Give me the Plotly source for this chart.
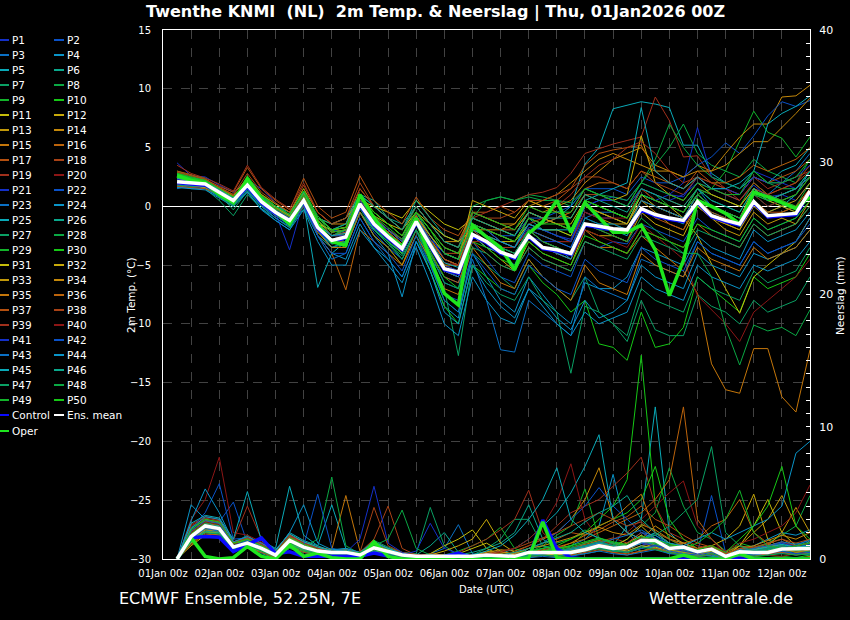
import plotly.graph_objects as go
from datetime import datetime, timedelta

# ECMWF ensemble meteogram, Twenthe, run 01Jan2026 00Z, 6-hourly steps from +6h to +276h
run_start = datetime(2026, 1, 1, 0)
lead_hours = list(range(6, 277, 6))
times = [run_start + timedelta(hours=h) for h in lead_hours]

member_names = [f"P{i}" for i in range(1, 51)]
member_palette = ["#1430c8", "#0a52c8", "#0a70c4", "#0a94c8", "#0aaab8",
                  "#0aa88c", "#0aa064", "#0aa844", "#12b42a", "#16c816",
                  "#c4bc0a", "#c8aa0a", "#c0980a", "#c4880a", "#c4760a",
                  "#bc640c", "#b45010", "#a84216", "#a0301c", "#8c1616"]

# 2m temperature (deg C)
temp_mean = [2.1, 2.0, 1.9, 1.2, 0.5, 1.8, 0.4, -0.5, -1.2, 0.5,
             -1.8, -2.9, -2.6, 0.2, -1.5, -2.6, -3.6, -1.3, -3.3, -5.3, -5.6,
             -2.4, -3.0, -3.9, -4.3, -2.5, -3.5, -3.7, -4.0, -1.5, -1.7, -1.9, -2.0, -0.2,
             -0.7, -1.0, -1.2, 0.4, -0.8, -1.2, -1.5, 0.4, -0.8, -0.7, -0.6, 1.3]
temp_control = [2.0, 1.9, 1.8, 1.2, 0.4, 1.7, 0.3, -0.6, -1.3, 0.4,
                -1.9, -3.0, -2.7, 0.1, -1.6, -2.7, -3.7, -1.4, -3.4, -5.4, -5.7,
                -2.5, -3.1, -4.0, -4.4, -2.6, -3.6, -3.8, -4.1, -1.6, -1.8, -2.0, -2.1, -0.3,
                -0.8, -1.1, -1.3, 0.3, -0.9, -1.3, -1.6, 0.3, -0.9, -0.8, -0.7, 1.2]
temp_oper = [2.6, 2.2, 2.0, 1.0, 0.3, 2.3, 0.6, -0.5, -1.5, 0.5,
             -1.5, -3.0, -3.3, 1.0, -1.0, -2.5, -3.4, -1.0, -4.5, -7.4, -8.4,
             -1.6, -2.6, -3.5, -5.4, -2.3, -1.3, 0.5, -2.2, 0.3, -1.0, -2.2, -2.2, -1.6,
             -3.7, -7.6, -4.6, 0.5, 0.0, -0.6, -1.5, 1.2, 0.8, 0.3, -0.2, 0.8]

temp_members = [
    [3.7, 2.6, 2.5, 1.8, 1.2, 2.2, 1.5, 0.3, -0.8, 1.2, -1.0, -2.0, -2.2, 0.8, -1.0, -2.0, -2.8, -0.5, -2.5, -4.0, -4.5, -1.5, -2.5, -3.0, -3.5, -1.8, -2.0, -2.5, -2.8, 0.0, 0.5, 0.8, 0.5, 2.0, 1.5, 1.0, 0.8, 2.5, 1.5, 1.0, 0.5, 1.8, 0.8, 1.0, 0.5, 2.0],
    [2.5, 2.2, 2.0, 1.5, 0.8, 1.5, 0.2, -0.2, -1.0, 0.8, -2.5, -3.5, -3.0, -0.5, -2.2, -3.5, -4.5, -2.0, -4.5, -6.0, -6.5, -3.0, -4.5, -6.0, -6.5, -4.0, -5.0, -5.5, -6.0, -3.0, -3.5, -3.0, -3.2, -1.5, -2.0, -2.5, -3.0, -1.0, -2.0, -2.5, -3.0, -1.0, -2.0, -1.5, -1.0, 0.5],
    [1.5, 1.8, 1.8, 0.8, 0.0, 1.5, 0.0, -1.0, -1.8, 0.0, -2.0, -3.5, -3.0, 0.0, -2.0, -3.0, -4.0, -1.5, -4.0, -6.5, -7.0, -2.0, -2.5, -4.0, -5.0, -2.0, -3.0, -3.5, -4.5, -1.0, -0.5, -0.5, -1.0, 1.0, 0.5, 0.0, -0.5, 1.5, 0.0, -0.5, -1.0, 1.5, 1.0, 2.0, 3.0, 4.5],
    [1.8, 1.5, 1.5, 0.8, 0.2, 1.2, -0.3, -1.2, -2.0, 0.2, -2.5, -4.0, -4.5, -1.5, -3.5, -4.5, -6.0, -3.0, -5.5, -8.5, -9.5, -4.0, -6.0, -8.0, -9.0, -6.0, -7.5, -9.0, -10.0, -6.5, -7.0, -7.0, -6.0, -3.5, -4.0, -4.5, -5.0, -2.5, -3.5, -4.0, -4.5, -2.0, -3.0, -2.5, -2.0, -0.5],
    [2.2, 2.0, 1.8, 1.0, 0.5, 1.5, 0.5, -0.3, -1.0, 0.8, -1.5, -2.5, -2.0, 0.5, -1.0, -2.0, -3.0, -0.8, -2.5, -4.0, -4.5, -1.5, -2.0, -2.5, -3.0, -1.0, -1.5, -1.0, 0.0, 3.6, 5.0, 8.3, 8.6, 8.9, 8.7, 8.4, 5.2, 5.2, 2.8, 2.0, 1.5, 2.5, 2.0, 3.0, 3.5, 5.0],
    [2.8, 2.4, 2.0, 1.2, 0.6, 2.0, 0.8, 0.0, -0.5, 1.0, -1.5, -2.0, -1.5, 1.0, 0.5, -1.0, -1.5, 0.0, -1.5, -3.0, -3.5, -1.0, -1.5, -2.0, -2.5, -0.5, -1.0, -1.5, -2.0, 0.5, 0.0, -0.5, -1.0, 1.0, 0.5, 0.0, -0.5, 1.0, 0.0, -0.5, -1.0, 1.0, 0.0, 0.5, 1.0, 2.5],
    [2.3, 2.1, 1.5, 0.5, -0.8, 1.0, -0.2, -1.0, -1.8, -0.2, -2.5, -3.5, -3.2, -0.5, -2.0, -3.2, -4.5, -2.0, -5.0, -8.0, -9.0, -4.0, -5.0, -6.0, -7.0, -4.5, -6.0, -7.0, -8.0, -6.0, -9.0, -10.0, -11.5, -8.0, -10.5, -11.0, -11.0, -7.5, -8.5, -9.0, -10.0, -8.0, -9.0, -8.5, -8.0, -6.0],
    [2.6, 2.3, 2.2, 1.5, 0.8, 2.2, 0.8, 0.0, -0.8, 1.0, -1.2, -2.5, -2.0, 0.8, -0.5, -1.5, -2.5, 0.0, -1.5, -3.0, -3.5, 0.0, 0.5, 0.8, 0.5, 1.0, 0.8, 0.5, 0.0, 1.5, 1.0, 0.8, 0.5, 2.0, 3.5, 5.0, 7.0, 4.5, 3.5, 3.0, 2.5, 4.0, 3.0, 2.5, 2.0, 4.0],
    [2.9, 2.5, 2.3, 1.3, 0.5, 2.5, 1.0, 0.2, -0.5, 1.5, -1.0, -2.0, -2.5, 0.5, -1.5, -2.5, -3.5, -1.0, -3.0, -5.0, -5.5, -2.0, -2.5, -3.5, -4.0, -2.0, -3.0, -3.5, -4.0, -1.0, -1.5, -1.5, -2.0, 0.5, 0.0, -0.5, -1.0, 1.0, 1.5, 3.0, 5.6, 8.1, 6.3, 5.8, 4.2, 5.9],
    [3.0, 2.6, 2.4, 1.4, 0.6, 2.6, 1.0, 0.0, -1.0, 1.2, -1.5, -3.0, -3.5, -0.5, -2.5, -3.5, -5.0, -2.5, -5.5, -8.5, -10.0, -5.0, -6.0, -7.0, -7.5, -5.0, -6.5, -7.5, -9.0, -8.0, -11.7, -12.0, -13.1, -9.0, -12.0, -11.7, -10.3, -6.0, -7.0, -8.0, -9.0, -6.0, -7.0, -6.5, -6.0, -4.0],
    [2.0, 1.9, 1.7, 1.0, 0.3, 1.6, 0.3, -0.6, -1.3, 0.3, -1.0, -1.5, -1.0, 0.5, 0.0, -0.5, -1.0, 0.5, -0.5, -1.5, -2.0, -1.0, -1.5, -2.0, -2.5, -0.5, -1.0, -1.5, -1.5, 0.5, 0.0, -0.5, -1.0, 1.5, 0.5, 0.0, -1.0, -2.5, -4.9, -7.0, -9.1, -6.0, -5.0, -4.0, -3.0, -1.0],
    [2.2, 2.1, 1.9, 1.3, 0.7, 1.9, 0.6, -0.3, -1.0, 0.6, -1.8, -3.0, -2.8, 0.0, -1.8, -2.8, -4.0, -1.5, -3.5, -5.5, -6.0, -2.5, -3.5, -4.5, -5.5, -3.0, -4.0, -4.5, -5.0, -2.0, -2.5, -2.5, -3.0, -0.5, -1.5, -2.0, -2.5, 0.0, -1.0, -1.5, -2.0, 0.0, -1.0, -0.5, 0.0, 1.5],
    [1.7, 1.8, 1.6, 1.1, 0.6, 1.7, 0.5, -0.4, -1.1, 0.4, -1.2, -2.5, -2.5, 0.3, -1.2, -2.2, -3.2, -0.8, -2.8, -4.5, -5.0, -2.0, -2.0, -3.0, -3.5, -2.0, -2.5, -3.0, -3.0, -0.5, -1.0, -1.5, -1.5, 0.5, -0.5, -1.5, -2.0, 0.0, -1.0, -2.0, -2.5, -0.5, -1.5, -1.0, -1.5, 0.5],
    [2.4, 2.2, 2.1, 1.6, 1.0, 2.4, 1.0, 0.2, -0.5, 1.5, -0.5, -1.5, -1.5, 1.5, 0.0, -1.0, -2.0, 0.0, -1.5, -3.0, -3.0, -0.5, -1.0, -1.5, -1.5, 0.0, -0.5, 0.0, 0.5, 2.0, 3.0, 4.0, 4.5, 5.0, 3.5, 3.0, 2.5, 3.5, 3.0, 4.5, 5.9, 7.0, 7.0, 9.3, 9.4, 10.3],
    [2.0, 1.8, 1.6, 1.2, 0.4, 1.9, 0.4, -0.5, -1.3, 0.5, -2.0, -3.0, -3.0, 0.0, -1.5, -2.5, -3.5, -1.0, -3.0, -5.0, -5.5, -2.5, -3.5, -4.0, -4.5, -2.5, -3.5, -4.0, -4.5, -2.0, -3.0, -3.5, -4.0, -2.5, -3.5, -4.5, -5.5, -7.4, -13.4, -15.6, -15.9, -12.1, -12.1, -16.2, -17.5, -12.2],
    [2.3, 2.0, 1.8, 1.0, 0.4, 1.7, 0.6, -0.4, -1.0, 0.8, -2.5, -4.0, -7.1, -2.0, -3.0, -4.0, -5.0, -2.0, -4.0, -6.0, -6.5, -3.0, -4.0, -5.0, -5.5, -3.5, -4.5, -5.0, -5.5, -3.0, -3.5, -3.5, -4.0, -2.0, -2.5, -3.0, -3.5, -1.5, -2.5, -3.0, -3.5, -1.5, -2.5, -2.0, -1.5, 0.0],
    [3.0, 2.7, 2.3, 1.7, 1.2, 3.3, 1.5, 0.5, -0.3, 2.4, 0.0, -1.0, -0.5, 2.6, 0.5, -0.5, -1.5, 0.8, -1.0, -2.0, -2.5, -0.5, -0.5, 0.0, -0.5, 0.5, 0.0, 0.5, 1.5, 3.5, 4.5, 4.8, 5.0, 5.2, 3.0, 2.0, 1.5, 3.0, 2.0, 1.5, 1.0, 2.5, 2.0, 2.5, 3.0, 4.0],
    [2.5, 2.3, 2.1, 1.4, 0.8, 2.2, 0.8, -0.2, -0.9, 1.0, -1.2, -2.2, -2.0, 0.8, -0.8, -2.0, -2.8, -0.8, -2.5, -4.0, -4.0, -1.0, -1.5, -2.0, -2.0, -0.5, -1.0, -1.0, -0.5, 1.0, 1.0, 0.5, 0.0, 1.5, 1.0, 0.5, 0.0, 1.5, 1.0, 0.5, 0.0, 1.5, 1.0, 1.5, 2.0, 3.0],
    [3.5, 2.8, 2.4, 1.9, 1.3, 3.5, 1.6, 0.6, -0.2, 2.0, -0.5, -1.5, -1.0, 1.5, 0.0, -1.0, -2.0, 0.0, -1.5, -2.5, -3.0, -1.0, -0.5, 0.0, 0.5, 1.0, 1.2, 1.6, 2.8, 4.5, 4.9, 5.3, 5.6, 5.9, 9.3, 7.3, 4.2, 4.3, 2.5, 1.5, 0.5, 2.0, 1.0, 0.5, 0.0, 1.5],
    [2.0, 1.9, 1.8, 1.1, 0.4, 1.6, 0.3, -0.6, -1.3, 0.3, -1.8, -3.0, -2.8, 0.0, -1.5, -2.5, -3.5, -1.2, -3.2, -5.0, -5.5, -2.5, -3.0, -4.0, -4.5, -2.5, -3.5, -4.0, -4.5, -2.0, -2.5, -3.0, -3.5, -1.5, -2.5, -3.5, -4.5, -7.6, -8.8, -10.0, -11.5, -9.0, -8.0, -7.0, -6.0, -4.5],
    [2.1, 2.0, 1.9, 1.2, 0.4, 1.7, 0.3, -0.6, -3.7, 0.5, -1.8, -2.8, -2.5, 0.3, -1.5, -2.5, -3.5, -1.2, -3.2, -5.0, -5.5, -2.0, -3.0, -4.0, -4.5, -2.5, -3.0, -3.0, -3.5, -0.5, -1.0, -1.0, -1.5, 1.0, 0.5, 1.0, 2.0, 6.7, 2.5, 2.0, 1.5, 3.0, 2.5, 2.0, 1.5, 3.0],
    [2.4, 2.1, 2.0, 1.3, 0.6, 1.9, 0.5, -0.4, -1.1, 0.6, -1.5, -2.5, -2.2, 0.5, -1.0, -2.0, -3.0, -0.8, -2.5, -4.5, -5.0, -1.5, -2.0, -2.5, -2.5, -1.0, -1.0, -0.5, 0.0, 1.5, 1.5, 1.5, 1.0, 2.5, 2.0, 2.0, 2.5, 3.5, 4.2, 5.4, 4.5, 6.0, 7.7, 8.9, 8.5, 9.0],
    [1.6, 1.6, 1.7, 0.9, 0.1, 1.3, 0.0, -1.0, -1.7, 0.0, -2.5, -4.5, -4.0, -1.0, -3.0, -4.5, -6.0, -3.0, -5.0, -8.0, -9.0, -4.5, -8.0, -12.2, -12.4, -8.0, -9.0, -10.0, -11.0, -6.0, -7.0, -7.5, -8.0, -4.5, -5.0, -5.5, -6.0, -3.0, -4.0, -4.5, -5.0, -3.0, -4.0, -3.5, -3.0, -1.0],
    [1.9, 1.7, 1.6, 0.8, 0.3, 1.4, 0.2, -0.8, -1.5, 0.4, -2.0, -3.5, -3.5, -0.5, -2.5, -4.0, -7.7, -3.0, -5.5, -9.0, -10.0, -5.0, -7.0, -8.5, -9.5, -7.0, -8.0, -9.5, -10.5, -8.0, -9.5, -9.0, -8.0, -5.0, -6.0, -6.5, -7.0, -4.0, -5.0, -5.5, -6.0, -4.0, -4.5, -4.0, -3.5, -2.0],
    [2.2, 2.0, 1.9, 1.1, 0.4, 1.6, 0.4, -0.8, -1.5, 0.3, -6.9, -4.0, -3.0, 0.0, -2.0, -3.0, -4.0, -1.5, -3.5, -5.5, -6.0, -2.5, -3.5, -4.0, -4.5, -2.5, -3.5, -4.0, -4.5, -1.5, -2.0, -2.0, -2.5, 0.0, -1.0, -1.0, -1.5, 0.5, -0.5, -1.0, -1.5, 0.5, -0.5, 0.0, 1.0, 3.0],
    [2.7, 2.4, 2.2, 1.5, 0.8, 2.1, 0.7, -0.2, -0.8, 1.2, -1.0, -1.5, -1.0, 1.0, 0.0, -1.0, -2.0, 0.5, -1.0, -2.5, -3.0, -1.5, -2.0, -3.0, -3.5, -1.0, -2.0, -2.5, -3.0, 0.0, -0.5, -1.0, -1.5, 1.0, 0.5, 0.0, -0.5, 1.5, 0.5, 0.0, -0.5, 1.5, 0.5, 0.0, -0.5, 1.0],
    [1.8, 1.7, 1.7, 1.0, -0.3, 1.3, 0.0, -0.8, -1.6, 0.2, -2.2, -3.2, -3.0, -0.5, -2.0, -3.0, -4.5, -2.0, -4.5, -7.0, -12.7, -5.0, -6.5, -7.5, -8.0, -6.0, -8.0, -9.0, -14.2, -8.5, -9.0, -10.0, -11.0, -7.0, -8.0, -8.5, -9.0, -6.0, -7.0, -7.5, -8.0, -5.5, -6.5, -6.0, -5.5, -3.5],
    [2.5, 2.2, 2.0, 1.2, 0.5, 2.0, 0.5, -0.3, -1.0, 0.8, -1.5, -2.5, -2.0, 0.5, -1.0, -2.0, -3.0, -0.5, -2.5, -4.0, -4.5, -1.0, 0.5, 0.8, 0.5, 0.8, 0.5, 0.5, 0.3, 1.5, 1.0, 0.5, 0.0, 2.0, 4.0, 7.0, 5.0, 3.5, 2.5, 2.0, 1.5, 3.0, 2.0, 1.5, 1.5, 3.0],
    [2.8, 2.5, 2.2, 1.4, 0.7, 2.3, 0.9, 0.0, -0.7, 1.3, -0.8, -2.0, -1.8, 0.8, -0.5, -1.5, -2.5, -0.5, -2.0, -3.5, -4.0, -1.5, -2.0, -2.5, -3.0, -1.5, -2.0, -2.0, -2.5, 0.5, 0.0, -0.5, -1.0, 1.5, 1.0, 0.0, -0.5, 1.5, 1.0, 0.5, 0.0, 2.0, 1.0, 0.5, 0.0, 2.0],
    [2.6, 2.3, 2.1, 1.1, 0.3, 2.1, 0.6, -0.4, -1.1, 0.9, -1.8, -3.0, -2.8, 0.0, -1.8, -3.0, -4.0, -1.5, -3.8, -6.0, -7.0, -3.0, -3.5, -4.5, -5.0, -3.0, -4.0, -4.5, -5.0, -2.5, -3.0, -3.5, -4.0, -2.0, -2.5, -3.0, -3.5, -1.5, -2.0, -2.5, -3.0, -1.0, -2.0, -1.5, -1.0, 0.5],
    [2.0, 1.9, 1.8, 1.2, 0.6, 1.8, 0.4, -0.5, -1.2, 0.5, -1.5, -2.0, -1.8, 0.5, -0.8, -1.5, -2.0, -0.5, -1.5, -2.5, -3.0, -2.0, -2.5, -3.0, -3.0, -1.5, -2.0, -2.0, -2.5, 0.0, -0.5, -1.0, -1.5, 1.0, 0.0, -0.5, -1.0, 1.0, 0.0, -0.5, -1.0, 1.5, 0.5, 1.0, 1.5, 2.5],
    [2.3, 2.1, 1.9, 1.4, 0.8, 2.0, 0.6, -0.2, -0.9, 0.8, -1.2, -2.2, -2.0, 0.5, -1.0, -2.0, -3.0, -0.8, -2.5, -4.0, -4.5, 0.5, 0.0, -0.5, -1.0, 0.5, 0.0, -0.5, -1.0, 1.0, 0.5, 0.5, 1.0, 6.0, 2.0, 1.0, 0.5, 2.0, 1.0, 0.5, 0.0, 1.5, 0.5, 0.0, -0.5, 1.5],
    [1.9, 1.8, 1.6, 1.0, 0.4, 1.7, 0.3, -0.7, -1.4, 0.2, -2.0, -3.0, -2.8, 0.0, -1.5, -2.5, -3.5, -1.2, -3.0, -5.0, -5.0, -0.5, -1.0, -1.5, -2.0, -0.5, -1.0, -1.5, -2.0, 0.0, -0.5, -1.0, -1.5, 0.5, 0.0, -0.5, -1.0, 0.0, -1.0, -1.5, -2.0, 0.5, -0.5, 0.0, 0.5, 2.0],
    [2.4, 2.2, 2.0, 1.5, 0.9, 2.1, 0.7, -0.1, -0.8, 1.1, -1.0, -2.0, -1.8, 1.0, -0.5, -1.5, -2.5, -0.5, -2.0, -3.5, -4.0, -1.5, -2.0, -2.0, -1.5, 0.0, 0.5, 1.0, 2.0, 3.0, 4.0, 4.5, 4.0, 3.5, 3.0, 3.0, 2.5, 3.0, 3.0, 3.5, 4.5, 5.5, 5.5, 6.7, 7.9, 9.2],
    [2.1, 1.9, 1.8, 1.1, 0.3, 1.6, 0.3, -0.7, -1.4, 0.3, -2.2, -3.5, -3.5, -0.5, -2.5, -3.5, -5.0, -2.5, -4.5, -7.0, -7.5, -3.5, -5.0, -6.5, -7.0, -4.5, -6.0, -7.0, -8.0, -5.0, -6.5, -7.0, -7.5, -4.0, -5.0, -5.5, -6.0, -3.5, -4.5, -5.0, -5.5, -3.5, -4.5, -4.0, -3.5, -2.0],
    [2.6, 2.3, 2.1, 1.3, 0.6, 2.0, 0.7, -0.2, -0.9, 1.0, -1.5, -2.5, -2.2, 0.5, -1.2, -2.2, -3.2, -0.8, -2.8, -4.5, -5.0, -1.5, -2.0, -2.5, -3.0, -1.0, -1.5, -1.0, -0.5, 1.5, 2.0, 2.0, 1.5, 3.0, 2.5, 2.0, 1.5, 2.5, 2.0, 2.0, 2.5, 3.5, 3.0, 3.5, 4.0, 5.0],
    [1.7, 1.6, 1.5, 1.0, 0.5, 1.5, 0.2, -0.8, -1.5, 0.0, -1.8, -2.8, -2.5, 0.0, -1.5, -2.5, -3.5, -1.0, -3.0, -4.5, -5.0, -2.0, -3.0, -3.5, -4.0, -2.0, -3.0, -3.5, -4.0, -1.5, -2.0, -2.5, -3.0, 0.0, -1.0, -1.5, -2.0, 0.5, -0.5, -1.0, -1.5, 0.5, -0.5, -0.5, 0.0, 1.5],
    [2.9, 2.6, 2.3, 1.6, 1.0, 2.8, 1.2, 0.3, -0.5, 1.8, -0.5, -1.5, -1.0, 2.0, 0.0, -1.0, -2.0, 0.0, -1.5, -3.0, -3.5, -0.5, -1.0, -1.0, -0.5, 0.5, 0.5, 1.0, 1.5, 2.5, 2.5, 2.0, 1.5, 3.0, 2.0, 1.5, 1.0, 2.5, 1.5, 1.0, 0.5, 2.0, 1.0, 1.5, 2.0, 3.5],
    [2.2, 2.0, 1.9, 1.2, 0.5, 1.8, 0.5, -0.5, -1.2, 0.6, -1.8, -3.0, -2.8, 0.2, -1.5, -2.8, -3.8, -1.2, -3.5, -5.5, -6.0, -3.0, -3.0, -3.5, -3.5, -1.5, -1.0, 0.0, 1.0, 2.5, 3.5, 4.0, 5.0, 5.5, 4.5, 3.0, 2.0, 2.5, 2.0, 1.5, 1.0, 2.5, 1.5, 2.0, 2.5, 3.0],
    [2.5, 2.2, 2.0, 1.3, 0.6, 2.0, 0.6, -0.3, -1.0, 0.8, -1.5, -2.5, -2.3, 0.5, -1.2, -2.3, -3.3, -1.0, -3.0, -4.8, -5.0, -2.0, -2.5, -3.0, -3.5, -2.0, -2.5, -3.0, -3.0, -0.5, -1.0, -1.0, -1.0, 1.5, 0.5, 0.0, -0.5, 1.0, 0.0, -0.5, -1.0, 1.0, 0.0, 0.5, 1.0, 2.5],
    [2.3, 2.1, 2.0, 1.4, 0.7, 2.0, 0.8, -0.3, -1.0, 0.7, -1.5, -2.5, -2.5, 0.5, -1.0, -2.0, -3.0, -1.0, -2.8, -4.0, -4.5, -1.5, -2.0, -3.0, -3.5, -1.5, -2.0, -2.5, -3.0, 0.0, 0.5, 0.5, 0.0, 1.5, 1.0, 0.5, 1.0, 2.0, 1.5, 1.5, 1.0, 2.5, 2.0, 2.0, 2.5, 3.5],
    [2.0, 1.9, 1.8, 1.0, 0.2, 1.5, 0.1, -0.8, -1.6, 0.1, -2.5, -4.0, -4.0, -1.0, -3.0, -4.0, -5.5, -2.5, -5.0, -7.5, -8.0, -4.0, -5.5, -7.0, -7.5, -5.0, -6.0, -7.0, -7.5, -4.5, -5.5, -6.0, -6.5, -3.5, -4.5, -5.0, -5.5, -3.0, -4.0, -4.5, -5.0, -3.0, -4.0, -3.5, -3.0, -1.5],
    [2.1, 2.0, 1.9, 1.2, 0.5, 1.7, 0.3, -0.6, -1.3, 0.4, -2.0, -3.0, -2.8, 0.0, -1.8, -2.8, -3.8, -1.5, -3.5, -5.5, -6.0, -2.5, -3.0, -3.5, -4.0, -2.0, -2.5, -3.0, -3.5, -1.0, -1.5, -1.5, -2.0, 0.5, 0.0, -0.5, -1.0, 1.0, 0.0, -0.5, -1.0, 1.0, 0.5, 1.0, 1.5, 2.5],
    [1.6, 1.5, 1.4, 0.7, 0.0, 1.2, -0.2, -1.2, -2.0, -0.3, -3.0, -5.0, -5.0, -2.0, -3.5, -5.0, -6.5, -3.5, -6.5, -10.0, -11.0, -6.0, -8.0, -9.5, -10.0, -7.0, -8.5, -10.0, -11.0, -9.0, -10.0, -9.5, -9.0, -6.0, -7.0, -7.5, -8.0, -5.0, -6.0, -6.5, -7.0, -5.0, -5.5, -5.0, -4.5, -3.0],
    [2.4, 2.2, 2.0, 1.3, 0.6, 1.9, 0.5, -0.4, -1.1, 0.6, -1.5, -2.5, -2.3, 0.3, -1.3, -2.3, -3.3, -1.0, -3.0, -4.8, -5.2, -2.0, -2.5, -3.0, -3.5, -1.5, -2.0, -2.0, -2.0, 0.5, 1.0, 1.5, 2.0, 8.4, 3.0, 2.0, 1.5, 2.5, 1.5, 1.5, 2.0, 3.0, 7.0, 7.9, 8.5, 9.4],
    [2.7, 2.4, 2.2, 1.4, 0.7, 2.2, 0.8, 0.0, -0.7, 1.2, -1.0, -2.0, -1.5, 1.0, 0.0, -1.0, -2.0, 0.0, -1.5, -3.0, -3.5, -1.0, -1.5, -2.0, -2.5, -0.5, -1.0, -1.0, -1.0, 1.0, 0.5, 0.0, -0.5, 1.5, 1.0, 0.5, 0.0, 1.5, 0.5, 0.0, -0.5, 1.5, 0.5, 1.0, 1.5, 3.0],
    [2.0, 1.8, 1.7, 0.8, 0.0, 1.5, 0.2, -0.7, -1.5, 0.2, -2.0, -3.2, -3.0, -0.2, -2.0, -3.2, -4.2, -2.0, -4.0, -6.5, -7.0, -3.5, -4.0, -5.0, -5.5, -3.5, -4.5, -5.0, -5.5, -3.0, -3.5, -4.0, -4.5, -2.5, -3.0, -3.5, -4.0, -2.0, -2.5, -3.0, -3.5, -1.5, -2.5, -2.0, -1.5, 0.0],
    [2.2, 2.0, 1.9, 1.2, 0.5, 1.8, 0.5, -0.4, -1.1, 0.6, -1.8, -2.8, -2.6, 0.2, -1.5, -2.6, -3.6, -1.3, -3.3, -5.3, -5.6, -2.5, -3.0, -3.5, -4.0, -2.0, -3.0, -3.5, -4.0, -1.5, -2.0, -2.5, -3.0, -1.0, -2.0, -3.0, -4.0, -4.0, -6.0, -10.3, -13.5, -10.1, -10.6, -10.3, -11.0, -8.8],
    [2.5, 2.3, 2.1, 1.3, 0.6, 2.1, 0.7, -0.2, -0.9, 1.0, -1.2, -2.2, -2.0, 0.8, -0.8, -1.8, -2.8, -0.5, -2.0, -3.5, -4.0, -0.5, -1.0, -1.5, -2.0, 0.0, -0.5, -0.5, -0.5, 1.5, 1.0, 0.5, 0.0, 2.0, 1.5, 1.0, 0.5, 2.0, 1.5, 1.0, 1.0, 3.0, 2.0, 2.0, 2.5, 4.0],
    [2.8, 2.4, 2.2, 1.5, 0.8, 2.3, 0.9, 0.0, -0.7, 1.3, -1.0, -2.0, -1.8, 0.8, -0.5, -1.5, -2.5, -0.5, -2.0, -4.0, -4.5, -1.5, -2.0, -2.5, -3.0, -1.0, -1.5, -1.5, -2.0, 0.5, 0.0, -0.5, -1.0, 1.0, 0.5, 0.0, -0.5, 1.0, 0.0, -0.5, -1.0, 1.0, 0.5, 0.5, 1.0, 2.5],
]

# 6-hourly precipitation (mm)
precip_mean = [0.0, 1.7, 2.5, 2.3, 0.9, 1.2, 0.8, 0.3, 1.4, 0.9,
               0.6, 0.5, 0.5, 0.3, 0.85, 0.55, 0.3, 0.2, 0.2, 0.2, 0.2,
               0.2, 0.3, 0.25, 0.2, 0.5, 0.5, 0.5, 0.5, 0.7, 1.0, 0.8, 0.9, 1.4,
               1.4, 0.8, 0.9, 0.55, 0.75, 0.2, 0.55, 0.5, 0.5, 0.75, 0.75, 0.8]
precip_control = [0.0, 1.6, 1.7, 1.65, 0.55, 1.05, 1.6, 0.4, 0.55, 0.2,
                  0.2, 0.2, 0.2, 0.2, 0.45, 0.2, 0.0, 0.0, 0.0, 0.2, 0.45,
                  0.1, 0.0, 0.0, 0.0, 0.1, 2.95, 0.8, 0.1, 0.0, 0.0, 0.0, 0.0, 0.0,
                  0.0, 0.0, 0.0, 0.0, 0.0, 0.0, 0.0, 0.0, 0.0, 0.0, 0.0, 0.0]
precip_oper = [0.0, 1.6, 0.2, 0.0, 0.1, 0.95, 0.2, 0.0, 1.05, 0.2,
               0.45, 0.1, 0.0, 0.0, 1.3, 0.2, 0.0, 0.0, 0.0, 0.0, 0.2,
               0.0, 0.0, 0.0, 0.0, 0.1, 2.8, 0.1, 0.0, 0.0, 0.0, 0.0, 0.0, 0.0,
               0.0, 0.0, 0.3, 0.0, 0.0, 0.0, 0.4, 0.0, 0.0, 0.0, 0.0, 0.0]

precip_members = [
    [0, 1.5, 2.2, 2.0, 0.8, 1.0, 0.5, 0.2, 1.2, 0.8, 0.5, 0.3, 0.4, 0.2, 0.8, 0.5, 0.2, 0.1, 0.0, 0.0, 0.1, 0.0, 0.2, 0.1, 0.0, 0.3, 0.5, 0.4, 0.6, 0.8, 1.2, 0.9, 0.5, 1.0, 1.5, 0.8, 0.5, 0.3, 0.6, 0.1, 0.4, 0.3, 0.5, 0.8, 0.6, 0.5],
    [0, 1.8, 2.5, 2.8, 4.3, 1.2, 0.8, 0.3, 1.5, 1.0, 0.6, 0.5, 0.3, 0.1, 0.5, 0.3, 0.1, 0.0, 0.2, 0.1, 0.0, 0.0, 0.1, 0.3, 0.1, 0.5, 0.8, 0.6, 0.4, 1.0, 0.8, 0.5, 1.2, 2.0, 1.8, 1.0, 0.8, 0.5, 4.8, 0.5, 0.3, 0.2, 0.6, 0.4, 0.8, 1.0],
    [0, 2.0, 2.8, 2.5, 0.6, 1.4, 1.0, 0.4, 1.0, 0.6, 0.8, 0.4, 0.6, 0.3, 1.0, 0.6, 0.3, 0.2, 0.4, 0.8, 2.6, 0.4, 0.2, 0.0, 0.0, 0.2, 0.4, 0.3, 0.2, 0.5, 0.9, 0.6, 0.8, 1.5, 1.2, 0.6, 0.4, 0.2, 0.3, 0.0, 0.5, 0.8, 1.0, 0.6, 0.4, 0.3],
    [0, 4.1, 3.0, 2.2, 1.0, 1.6, 0.6, 0.2, 1.8, 1.2, 0.5, 0.2, 0.2, 0.0, 0.6, 0.4, 0.2, 0.0, 0.1, 0.0, 0.0, 0.1, 0.0, 0.2, 0.0, 0.6, 0.4, 0.8, 1.0, 1.5, 2.5, 6.4, 2.0, 1.0, 0.8, 0.5, 1.2, 0.6, 0.4, 0.2, 0.3, 0.2, 0.4, 0.6, 1.0, 1.5],
    [0, 1.2, 2.4, 2.6, 0.9, 0.8, 1.2, 0.6, 2.0, 1.4, 1.0, 4.1, 0.8, 0.3, 0.6, 0.2, 0.0, 0.0, 0.2, 0.3, 0.1, 0.0, 0.3, 0.2, 0.1, 0.8, 1.0, 0.7, 0.5, 1.2, 1.5, 1.0, 2.5, 3.0, 11.5, 2.0, 1.0, 0.6, 0.8, 0.2, 0.6, 0.5, 0.3, 0.5, 0.8, 0.6],
    [0, 1.6, 2.0, 1.8, 0.5, 1.3, 0.4, 0.1, 0.8, 0.5, 0.3, 0.6, 0.4, 0.2, 1.2, 0.8, 0.4, 0.3, 1.0, 2.0, 0.5, 0.2, 0.0, 0.1, 0.2, 0.4, 0.3, 0.5, 0.3, 0.4, 0.6, 0.8, 1.0, 0.6, 0.9, 0.4, 0.6, 0.3, 0.2, 0.1, 0.2, 0.4, 0.3, 0.5, 0.4, 0.6],
    [0, 2.2, 3.1, 2.4, 1.2, 1.8, 1.0, 0.5, 1.6, 0.9, 0.7, 0.6, 0.8, 0.5, 1.4, 0.9, 0.5, 0.4, 3.9, 1.0, 0.3, 0.2, 0.4, 0.6, 0.3, 0.2, 0.4, 0.5, 0.8, 1.0, 0.7, 0.5, 0.9, 1.8, 1.2, 0.8, 0.5, 0.4, 0.7, 0.2, 0.8, 0.6, 0.4, 0.8, 1.2, 0.9],
    [0, 1.4, 2.3, 2.1, 0.7, 1.1, 0.9, 0.3, 1.3, 0.7, 0.4, 0.8, 0.5, 0.2, 0.9, 0.6, 0.3, 0.1, 0.3, 0.2, 0.0, 0.1, 0.2, 0.0, 0.4, 0.6, 0.8, 1.2, 1.5, 2.2, 1.5, 1.0, 1.5, 2.5, 3.5, 6.9, 4.0, 2.0, 1.5, 0.6, 1.0, 0.8, 0.5, 0.6, 0.8, 1.0],
    [0, 1.9, 2.6, 2.3, 1.1, 1.5, 0.7, 0.2, 1.1, 0.9, 0.6, 0.4, 0.3, 0.1, 0.7, 0.4, 0.2, 0.2, 0.3, 0.1, 0.2, 0.0, 0.1, 0.2, 0.3, 0.5, 1.0, 1.8, 2.5, 5.3, 1.5, 0.8, 1.0, 1.2, 2.0, 1.5, 0.9, 0.5, 0.8, 0.3, 1.2, 0.9, 0.6, 1.0, 0.8, 1.2],
    [0, 2.4, 2.9, 2.7, 0.8, 1.2, 0.6, 0.1, 1.4, 0.8, 0.5, 0.3, 0.4, 0.2, 0.8, 0.5, 0.3, 0.1, 0.2, 0.0, 0.0, 0.0, 0.1, 0.2, 0.1, 0.3, 0.6, 0.8, 1.0, 2.0, 3.0, 4.0, 6.0, 15.4, 4.0, 1.5, 1.0, 0.6, 0.4, 0.1, 0.3, 0.2, 0.1, 0.2, 0.1, 0.3],
    [0, 1.0, 1.8, 1.9, 0.6, 0.9, 0.5, 0.2, 0.9, 0.6, 0.4, 0.2, 0.3, 0.1, 0.6, 0.3, 0.1, 0.0, 0.4, 1.0, 1.5, 2.2, 0.8, 0.3, 0.2, 0.1, 0.3, 0.2, 0.4, 0.6, 0.9, 0.7, 0.5, 0.8, 1.2, 0.7, 0.5, 0.3, 0.5, 0.0, 0.3, 0.5, 1.0, 0.8, 0.5, 0.4],
    [0, 1.7, 2.4, 2.2, 0.9, 1.1, 0.8, 0.3, 1.2, 0.7, 0.5, 0.4, 0.5, 0.2, 0.7, 0.5, 0.2, 0.1, 0.2, 0.1, 0.0, 0.2, 0.6, 0.3, 0.1, 0.4, 0.5, 0.4, 0.3, 0.7, 1.0, 0.8, 1.2, 1.8, 1.0, 0.6, 0.8, 0.5, 1.0, 1.5, 2.5, 4.9, 1.5, 0.8, 0.6, 0.5],
    [0, 1.3, 2.1, 2.0, 0.7, 1.0, 0.6, 0.2, 1.0, 0.6, 0.4, 0.3, 0.4, 0.1, 0.5, 0.4, 0.2, 0.1, 0.1, 0.0, 0.1, 0.0, 0.2, 0.4, 0.2, 0.3, 0.4, 0.6, 0.5, 0.8, 1.1, 0.9, 0.7, 1.2, 1.5, 1.0, 0.6, 0.4, 0.5, 0.3, 1.0, 2.0, 3.0, 4.8, 2.5, 1.2],
    [0, 1.8, 2.7, 2.5, 1.0, 1.3, 0.9, 0.4, 1.5, 1.1, 0.7, 0.5, 0.6, 0.3, 1.1, 0.7, 0.4, 0.2, 0.3, 0.2, 0.1, 0.3, 0.5, 0.7, 0.6, 1.0, 1.5, 2.0, 3.0, 4.5, 6.9, 3.0, 2.0, 1.5, 2.5, 1.8, 1.2, 0.8, 1.0, 0.4, 0.6, 0.8, 1.2, 1.5, 1.0, 0.8],
    [0, 1.5, 2.2, 2.4, 1.3, 1.6, 1.2, 0.6, 1.8, 1.3, 0.9, 0.7, 4.8, 0.6, 1.0, 0.6, 0.3, 0.2, 0.1, 0.0, 0.0, 0.1, 0.0, 0.1, 0.0, 0.2, 0.3, 0.2, 0.4, 0.6, 0.8, 0.5, 0.3, 0.6, 0.8, 0.5, 0.4, 0.2, 0.3, 0.1, 0.2, 0.1, 0.0, 0.1, 0.0, 0.2],
    [0, 2.1, 2.6, 2.3, 0.8, 1.4, 0.7, 0.3, 1.7, 1.0, 0.6, 0.4, 0.7, 0.4, 1.3, 0.8, 0.5, 0.3, 0.2, 0.1, 0.0, 0.0, 0.2, 0.1, 0.3, 0.5, 0.7, 0.9, 1.2, 1.5, 2.0, 2.5, 3.0, 3.5, 4.5, 6.0, 11.5, 3.0, 1.5, 0.5, 1.0, 0.8, 0.6, 0.5, 0.7, 0.9],
    [0, 1.6, 2.5, 2.6, 1.0, 1.2, 0.8, 0.4, 1.3, 0.8, 0.5, 0.4, 0.5, 0.2, 0.9, 0.6, 0.3, 0.2, 0.4, 0.3, 0.2, 0.1, 0.3, 0.5, 0.4, 0.8, 1.2, 1.5, 2.0, 1.8, 2.2, 2.8, 3.2, 4.0, 3.0, 2.5, 1.8, 1.2, 0.9, 0.3, 0.7, 0.9, 1.1, 0.8, 0.6, 0.9],
    [0, 1.9, 2.8, 2.9, 1.1, 1.7, 1.1, 0.5, 1.6, 1.2, 0.8, 0.6, 0.7, 0.5, 1.5, 4.0, 0.8, 0.3, 0.2, 0.1, 0.0, 0.1, 0.0, 0.2, 0.1, 0.4, 0.6, 0.5, 0.8, 1.0, 1.3, 1.6, 1.2, 2.0, 1.5, 1.0, 0.8, 0.6, 0.8, 0.2, 0.5, 0.4, 0.6, 0.9, 0.7, 1.0],
    [0, 2.6, 3.2, 3.0, 1.4, 4.0, 1.5, 0.7, 1.9, 1.0, 0.7, 0.5, 0.6, 0.3, 1.0, 0.5, 0.2, 0.1, 0.3, 0.2, 0.1, 0.0, 0.2, 0.3, 0.5, 1.0, 1.5, 2.5, 3.5, 4.0, 4.5, 5.5, 6.5, 7.7, 4.0, 2.0, 1.5, 1.0, 0.8, 0.4, 0.6, 0.5, 0.8, 1.0, 0.6, 0.8],
    [0, 3.0, 4.5, 7.7, 2.0, 1.8, 1.3, 0.6, 1.4, 0.9, 0.6, 0.4, 0.3, 0.2, 0.6, 0.4, 0.1, 0.0, 0.1, 0.0, 0.0, 0.0, 0.1, 0.2, 0.1, 0.3, 0.5, 0.4, 0.6, 0.8, 1.0, 1.5, 2.0, 3.0, 4.0, 5.0, 5.9, 2.5, 1.5, 0.3, 0.5, 0.4, 0.3, 0.2, 0.4, 0.6],
    [0, 1.7, 2.5, 2.4, 0.9, 1.2, 0.6, 0.2, 1.1, 0.7, 0.5, 0.3, 0.4, 0.2, 0.7, 0.5, 0.3, 0.6, 2.7, 0.8, 0.4, 0.2, 0.3, 0.2, 0.1, 0.3, 0.5, 0.4, 0.6, 0.9, 1.1, 0.8, 0.6, 1.0, 1.3, 0.7, 0.5, 0.3, 0.6, 0.2, 0.4, 0.6, 0.9, 1.2, 1.0, 0.8],
    [0, 2.3, 3.5, 5.7, 1.5, 1.6, 0.9, 0.4, 1.5, 1.0, 0.6, 0.4, 0.5, 0.3, 0.9, 0.6, 0.3, 0.1, 0.2, 0.1, 0.0, 0.1, 0.2, 0.3, 0.4, 0.8, 1.2, 2.0, 3.0, 4.0, 5.4, 4.0, 3.0, 2.0, 1.5, 1.0, 0.8, 0.5, 0.7, 0.2, 0.5, 0.7, 1.0, 1.2, 0.9, 1.1],
    [0, 1.4, 2.0, 1.9, 0.6, 0.9, 0.5, 0.2, 0.9, 0.5, 0.4, 0.2, 0.3, 0.1, 0.5, 0.3, 0.1, 0.0, 0.1, 0.0, 0.1, 0.0, 0.0, 0.1, 0.0, 0.1, 0.2, 0.1, 0.2, 0.4, 0.6, 0.4, 0.3, 0.5, 0.7, 0.4, 0.3, 0.2, 0.3, 0.0, 0.2, 0.3, 0.4, 0.5, 0.3, 0.4],
    [0, 2.9, 5.3, 3.5, 1.3, 1.5, 1.0, 0.5, 1.7, 1.2, 0.8, 0.5, 0.6, 0.3, 1.0, 0.7, 0.4, 0.2, 0.3, 0.2, 0.1, 0.0, 0.1, 0.2, 0.1, 0.2, 0.3, 0.4, 0.5, 0.7, 0.9, 1.2, 1.0, 1.5, 1.8, 1.2, 0.9, 0.6, 0.8, 0.3, 0.7, 1.0, 1.5, 2.0, 1.8, 2.2],
    [0, 1.8, 2.6, 2.5, 1.0, 1.4, 1.4, 0.8, 5.5, 1.8, 1.0, 0.6, 0.5, 0.3, 0.8, 0.5, 0.2, 0.1, 0.2, 0.1, 0.0, 0.1, 0.2, 0.4, 0.8, 1.5, 2.5, 3.5, 5.0, 7.0, 9.4, 3.0, 2.0, 1.5, 2.0, 1.2, 0.8, 0.5, 0.7, 0.3, 0.6, 0.5, 0.8, 1.0, 0.7, 0.9],
    [0, 1.3, 2.2, 2.1, 0.8, 1.1, 0.7, 0.3, 1.2, 0.8, 0.5, 0.3, 0.4, 0.2, 0.6, 0.4, 0.2, 0.1, 0.2, 0.1, 0.3, 0.5, 0.8, 1.2, 2.0, 4.1, 1.5, 0.8, 0.6, 0.9, 1.2, 1.0, 0.8, 1.3, 1.1, 0.7, 0.5, 0.4, 0.6, 0.2, 0.5, 0.4, 0.6, 0.8, 1.0, 1.3],
    [0, 2.0, 2.7, 2.4, 1.0, 1.3, 0.8, 0.4, 1.3, 0.8, 0.6, 0.5, 0.6, 0.3, 0.9, 0.6, 0.3, 0.2, 0.3, 0.2, 0.1, 0.3, 0.8, 1.5, 3.0, 3.0, 1.0, 0.6, 0.4, 0.6, 0.9, 0.7, 0.5, 0.8, 1.0, 0.6, 0.4, 0.3, 0.5, 0.1, 0.3, 0.4, 0.5, 0.7, 0.5, 0.6],
    [0, 1.5, 2.3, 2.2, 0.9, 1.2, 0.8, 0.3, 1.4, 0.9, 1.5, 6.2, 1.0, 0.4, 0.8, 0.5, 0.2, 0.1, 0.2, 0.1, 0.0, 0.0, 0.1, 0.2, 0.1, 0.3, 0.4, 0.5, 0.7, 1.0, 1.4, 1.1, 0.9, 1.6, 1.3, 0.9, 0.7, 0.5, 0.8, 0.3, 0.6, 0.8, 1.2, 1.8, 2.5, 4.8],
    [0, 1.7, 2.4, 2.3, 0.8, 1.0, 0.6, 0.2, 1.1, 0.7, 0.4, 0.3, 0.4, 0.2, 0.7, 0.4, 0.2, 0.1, 0.2, 0.3, 0.6, 1.0, 1.5, 2.4, 0.8, 0.4, 0.6, 0.5, 0.7, 1.0, 1.3, 1.0, 0.8, 1.4, 1.2, 0.8, 0.6, 0.4, 0.6, 0.2, 0.4, 0.5, 0.7, 0.9, 0.6, 0.8],
    [0, 1.9, 2.8, 2.6, 1.1, 1.4, 0.9, 0.4, 1.5, 1.0, 0.7, 0.5, 0.6, 0.3, 1.0, 0.6, 0.3, 0.2, 0.3, 0.1, 0.1, 0.0, 0.2, 0.3, 0.2, 0.5, 0.8, 1.0, 1.5, 2.0, 2.5, 3.0, 3.5, 4.5, 7.0, 3.0, 1.5, 0.8, 1.0, 0.3, 0.6, 0.7, 0.9, 1.1, 0.8, 1.0],
    [0, 1.2, 2.0, 2.0, 0.7, 0.9, 0.6, 0.2, 1.0, 0.6, 0.4, 0.3, 0.3, 0.1, 0.6, 0.3, 0.1, 0.0, 0.1, 0.2, 0.4, 0.8, 1.2, 0.6, 0.3, 0.2, 0.4, 0.3, 0.5, 0.7, 1.0, 0.8, 0.6, 1.0, 0.9, 0.6, 0.4, 0.3, 0.5, 0.2, 1.0, 2.5, 4.5, 2.0, 1.0, 0.8],
    [0, 1.6, 2.5, 2.3, 0.9, 1.1, 0.7, 0.3, 1.2, 0.8, 0.5, 0.4, 0.4, 0.2, 0.8, 0.5, 0.2, 0.1, 0.3, 0.6, 1.0, 1.5, 3.0, 1.2, 0.5, 0.3, 0.5, 0.4, 0.6, 0.8, 1.1, 0.9, 1.5, 2.5, 1.5, 0.8, 0.6, 0.4, 0.6, 0.2, 0.4, 0.6, 0.8, 1.0, 0.7, 0.9],
    [0, 1.4, 2.2, 2.1, 0.8, 1.0, 0.6, 0.2, 1.1, 0.7, 0.4, 0.3, 0.3, 0.1, 0.6, 0.4, 0.2, 0.1, 0.2, 0.1, 0.0, 0.1, 0.2, 0.4, 0.2, 0.4, 0.6, 0.5, 0.7, 0.9, 1.2, 1.0, 0.8, 1.2, 1.0, 0.7, 0.5, 0.3, 0.5, 0.2, 0.4, 0.7, 1.0, 2.0, 3.9, 2.0],
    [0, 2.0, 2.9, 2.7, 1.2, 1.5, 1.0, 0.5, 1.6, 1.1, 0.7, 0.5, 0.6, 0.4, 1.1, 0.7, 0.4, 0.2, 0.3, 0.2, 0.1, 0.2, 0.3, 0.5, 0.4, 0.8, 1.0, 1.3, 1.6, 2.0, 2.4, 2.0, 1.8, 2.6, 2.2, 1.5, 1.2, 0.8, 1.0, 0.4, 0.8, 1.0, 1.4, 1.8, 1.5, 2.0],
    [0, 1.5, 2.3, 2.2, 0.9, 1.2, 0.8, 0.3, 1.3, 0.8, 0.5, 0.4, 0.5, 0.2, 0.7, 0.5, 0.2, 0.1, 0.2, 0.1, 0.0, 0.1, 0.2, 0.1, 0.2, 0.4, 0.6, 0.8, 1.2, 1.8, 2.5, 3.0, 4.0, 4.9, 2.0, 1.2, 0.8, 0.5, 0.7, 0.2, 0.5, 0.4, 0.6, 0.8, 0.5, 0.7],
    [0, 1.8, 2.6, 2.4, 1.0, 1.3, 0.7, 0.3, 1.4, 0.9, 0.6, 0.4, 0.5, 0.3, 0.9, 0.6, 0.3, 0.2, 0.2, 0.1, 0.1, 0.0, 0.1, 0.2, 0.1, 0.3, 0.5, 0.6, 0.8, 1.1, 1.4, 1.2, 1.0, 1.5, 1.3, 1.0, 1.2, 1.5, 2.5, 3.0, 4.5, 2.0, 1.2, 0.8, 1.0, 1.2],
    [0, 1.1, 1.9, 1.8, 0.6, 0.8, 0.5, 0.1, 0.9, 0.5, 0.3, 0.2, 0.3, 0.1, 0.5, 0.3, 0.1, 0.0, 0.1, 0.0, 0.0, 0.0, 0.1, 0.1, 0.0, 0.2, 0.3, 0.2, 0.3, 0.5, 0.7, 0.5, 0.4, 0.6, 0.8, 0.5, 0.3, 0.2, 0.4, 0.1, 0.3, 0.2, 0.4, 0.5, 0.3, 0.5],
    [0, 2.2, 3.0, 2.8, 1.2, 1.6, 1.1, 0.5, 1.7, 1.2, 0.8, 0.6, 0.7, 0.5, 3.9, 1.0, 0.5, 0.3, 0.3, 0.2, 0.1, 0.2, 0.4, 0.6, 0.8, 1.2, 1.6, 2.0, 2.5, 3.0, 3.5, 3.0, 2.5, 2.8, 2.0, 1.5, 1.0, 0.8, 1.0, 0.4, 0.8, 0.9, 1.2, 1.5, 1.2, 1.5],
    [0, 2.5, 3.1, 2.9, 1.3, 1.5, 1.2, 0.6, 1.8, 1.2, 0.8, 0.6, 0.7, 0.4, 1.2, 0.8, 0.4, 0.2, 0.3, 0.2, 0.5, 1.0, 1.5, 2.2, 3.0, 5.2, 2.0, 1.0, 0.8, 1.2, 1.5, 1.2, 1.0, 1.6, 1.4, 1.0, 0.7, 0.5, 0.8, 0.3, 0.6, 0.8, 1.0, 1.3, 1.0, 1.2],
    [0, 2.0, 2.8, 2.6, 1.1, 1.3, 0.9, 0.4, 1.5, 1.0, 0.6, 0.4, 0.5, 0.3, 0.9, 0.6, 0.3, 0.1, 0.2, 0.1, 0.0, 0.1, 0.3, 0.5, 0.8, 1.5, 2.5, 4.3, 7.2, 3.0, 1.5, 1.0, 0.8, 1.2, 1.5, 1.0, 0.8, 0.5, 1.0, 0.6, 1.2, 1.5, 2.0, 2.5, 3.5, 5.6],
    [0, 1.6, 2.4, 2.2, 0.9, 1.2, 0.8, 0.3, 1.3, 0.8, 0.5, 0.4, 0.5, 1.5, 5.5, 1.2, 0.5, 0.2, 0.3, 0.2, 0.1, 0.2, 0.3, 0.2, 0.1, 0.3, 0.4, 0.6, 0.8, 1.0, 1.3, 1.0, 0.8, 1.2, 1.0, 0.8, 0.6, 0.4, 0.7, 0.2, 0.5, 0.6, 0.8, 1.0, 0.8, 0.9],
    [0, 2.1, 2.9, 2.7, 1.0, 1.4, 0.9, 0.4, 1.5, 1.0, 4.9, 0.8, 0.6, 0.3, 0.9, 0.6, 0.3, 0.1, 0.2, 0.1, 0.0, 0.0, 0.1, 0.0, 0.1, 0.2, 0.3, 0.2, 0.4, 0.6, 0.8, 0.6, 0.5, 0.8, 1.0, 0.6, 0.4, 0.3, 0.5, 0.1, 0.3, 0.4, 0.5, 0.6, 0.4, 0.5],
    [0, 1.5, 2.3, 2.1, 0.8, 1.1, 0.7, 0.3, 1.2, 0.8, 0.5, 0.3, 0.4, 0.2, 0.7, 0.5, 0.2, 0.1, 0.2, 0.1, 0.0, 0.1, 0.2, 0.3, 0.2, 0.4, 0.5, 0.6, 0.8, 1.0, 1.2, 1.5, 1.8, 2.2, 1.6, 1.0, 0.8, 0.5, 0.7, 0.3, 0.6, 0.8, 1.0, 1.3, 1.1, 1.4],
    [0, 2.3, 3.2, 3.0, 1.3, 1.7, 1.2, 0.6, 2.0, 4.1, 1.2, 0.7, 0.8, 0.5, 1.3, 0.8, 0.4, 0.2, 0.3, 0.2, 0.1, 0.0, 0.1, 0.2, 0.1, 0.3, 0.4, 0.5, 0.7, 0.9, 1.2, 1.0, 0.8, 1.2, 1.5, 1.2, 1.0, 1.5, 2.0, 1.5, 2.0, 2.5, 3.0, 4.0, 8.0, 8.9],
    [0, 2.7, 3.3, 3.1, 1.5, 5.1, 1.4, 0.7, 1.9, 1.3, 0.9, 0.6, 0.7, 0.4, 1.2, 0.8, 0.4, 0.2, 0.3, 0.2, 0.1, 0.3, 0.6, 1.0, 1.8, 3.0, 4.5, 6.9, 3.0, 2.0, 1.6, 1.2, 1.0, 1.5, 1.3, 0.9, 0.7, 0.5, 0.8, 0.3, 0.6, 0.7, 0.9, 1.1, 0.9, 1.0],
    [0, 1.4, 2.1, 2.0, 0.7, 1.0, 0.6, 0.2, 1.1, 0.7, 0.4, 0.3, 0.4, 0.2, 0.6, 0.4, 0.2, 0.1, 0.2, 0.1, 0.0, 0.1, 0.2, 0.3, 0.5, 0.8, 1.2, 1.6, 2.0, 2.8, 3.5, 4.0, 4.8, 3.0, 2.0, 1.2, 0.8, 0.5, 0.7, 0.2, 0.4, 0.5, 0.7, 0.9, 0.7, 0.8],
    [0, 1.8, 2.6, 2.4, 1.0, 1.3, 0.8, 0.4, 1.4, 0.9, 0.6, 0.4, 0.5, 0.3, 0.8, 0.5, 0.3, 0.1, 0.2, 0.1, 0.0, 0.0, 0.1, 0.2, 0.1, 0.3, 0.5, 0.6, 0.8, 1.0, 1.3, 1.0, 0.9, 1.5, 1.8, 2.5, 3.5, 4.5, 8.5, 2.0, 1.0, 0.6, 0.8, 1.0, 0.7, 0.9],
    [0, 1.3, 2.0, 1.9, 0.7, 1.0, 0.6, 0.2, 1.0, 0.6, 0.4, 0.3, 0.4, 0.5, 1.0, 1.5, 3.7, 0.8, 0.3, 0.1, 0.0, 0.1, 0.0, 0.1, 0.0, 0.2, 0.3, 0.2, 0.4, 0.6, 0.8, 0.6, 0.5, 0.9, 0.7, 0.5, 0.3, 0.2, 0.4, 0.1, 0.3, 0.2, 0.3, 0.4, 0.3, 0.4],
    [0, 1.6, 2.5, 2.3, 0.9, 1.2, 0.7, 0.3, 1.2, 0.8, 0.5, 0.4, 0.5, 0.2, 0.7, 0.5, 0.2, 0.1, 0.2, 0.1, 0.0, 0.1, 0.2, 0.3, 0.2, 0.4, 0.6, 0.7, 0.9, 1.2, 1.5, 1.2, 1.0, 1.4, 1.2, 1.0, 0.8, 1.2, 2.0, 3.0, 5.2, 2.0, 1.0, 0.8, 1.0, 1.2],
    [0, 2.2, 3.0, 2.8, 1.2, 1.5, 1.0, 0.5, 1.6, 1.1, 0.7, 0.5, 0.6, 0.4, 1.0, 0.7, 0.3, 0.2, 0.3, 0.2, 0.1, 0.0, 0.2, 0.3, 0.2, 0.4, 0.6, 0.8, 1.0, 1.3, 1.6, 1.3, 1.1, 1.7, 1.5, 1.1, 0.9, 0.7, 1.0, 0.5, 1.5, 2.5, 4.0, 7.0, 2.5, 1.5],
]

for k, row in enumerate(temp_members):
    assert len(row) == len(times), ("temp", k + 1, len(row))
for k, row in enumerate(precip_members):
    assert len(row) == len(times), ("precip", k + 1, len(row))

W, H = 850, 620
L, R, T, B = 163, 810, 30, 559
FONT = "DejaVu Sans"


def px(x):
    return (x - L) / (R - L)


def py(y):
    return (B - y) / (B - T)


fig = go.Figure()

for k in range(50):
    c = member_palette[k % 20]
    fig.add_trace(go.Scatter(x=times, y=temp_members[k], mode="lines", name=member_names[k],
                             line=dict(color=c, width=1), hoverinfo="skip", showlegend=False))
for k in range(50):
    c = member_palette[k % 20]
    fig.add_trace(go.Scatter(x=times, y=precip_members[k], yaxis="y2", mode="lines",
                             line=dict(color=c, width=1), hoverinfo="skip", showlegend=False))

for ys, ax in [(temp_control, "y"), (precip_control, "y2")]:
    fig.add_trace(go.Scatter(x=times, y=ys, yaxis=ax, mode="lines", line=dict(color="#0a0aff", width=3.5),
                             hoverinfo="skip", showlegend=False))
for ys, ax in [(temp_oper, "y"), (precip_oper, "y2")]:
    fig.add_trace(go.Scatter(x=times, y=ys, yaxis=ax, mode="lines", line=dict(color="#1ee61e", width=3.5),
                             hoverinfo="skip", showlegend=False))
for ys, ax in [(temp_mean, "y"), (precip_mean, "y2")]:
    fig.add_trace(go.Scatter(x=times, y=ys, yaxis=ax, mode="lines", line=dict(color="#ffffff", width=3.5),
                             hoverinfo="skip", showlegend=False))

# hand-made two-column legend, like the original
col1 = [(member_names[i], member_palette[i % 20]) for i in range(0, 50, 2)] + [("Control", "#0a0aff"), ("Oper", "#1ee61e")]
col2 = [(member_names[i], member_palette[i % 20]) for i in range(1, 50, 2)] + [("Ens. mean", "#ffffff")]
shapes, annotations = [], []
for x0, x1, xt, col in [(0, 9, 10, col1), (54, 64, 65, col2)]:
    for r, (name, c) in enumerate(col):
        yy = 40 + 15 * r if name != "Oper" else 431
        shapes.append(dict(type="line", xref="paper", yref="paper", x0=px(x0), x1=px(x1), y0=py(yy), y1=py(yy),
                           line=dict(color=c, width=2)))
        annotations.append(dict(xref="paper", yref="paper", x=px(xt), y=py(yy), text=name, showarrow=False,
                                xanchor="left", yanchor="middle", font=dict(size=10.5, color="white", family=FONT)))

annotations += [
    dict(xref="paper", yref="paper", x=px(435), y=py(12), showarrow=False, xanchor="center", yanchor="middle",
         text="<b>Twenthe KNMI \u00a0(NL) \u00a02m Temp. & Neerslag | Thu, 01Jan2026 00Z</b>",
         font=dict(size=16, color="white", family=FONT)),
    dict(xref="paper", yref="paper", x=px(240), y=py(598), showarrow=False, xanchor="center", yanchor="middle",
         text="ECMWF Ensemble, 52.25N, 7E", font=dict(size=16, color="white", family=FONT)),
    dict(xref="paper", yref="paper", x=px(721), y=py(598), showarrow=False, xanchor="center", yanchor="middle",
         text="Wetterzentrale.de", font=dict(size=16, color="white", family=FONT)),
    dict(xref="paper", yref="paper", x=px(486), y=py(589), showarrow=False, xanchor="center", yanchor="middle",
         text="Date (UTC)", font=dict(size=10, color="white", family=FONT)),
    dict(xref="paper", yref="paper", x=px(131), y=py(295), showarrow=False, textangle=-90,
         xanchor="center", yanchor="middle",
         text="2m Temp. (°C)", font=dict(size=10.5, color="white", family=FONT)),
    dict(xref="paper", yref="paper", x=px(840), y=py(295), showarrow=False, textangle=-90,
         xanchor="center", yanchor="middle",
         text="Neerslag (mm)", font=dict(size=10.5, color="white", family=FONT)),
]

grid = "#424242"
fig.update_layout(
    width=W, height=H,
    margin=dict(l=L, r=W - R, t=T, b=H - B),
    paper_bgcolor="black", plot_bgcolor="black",
    font=dict(family=FONT, size=10, color="white"),
    showlegend=False,
    shapes=shapes, annotations=annotations,
    xaxis=dict(type="date", range=[datetime(2026, 1, 1, 0), datetime(2026, 1, 12, 12)],
               tick0="2026-01-01", dtick=86400000, tickformat="%d%b %Hz", tickangle=0,
               showgrid=True, gridcolor=grid, griddash="dash", gridwidth=1,
               minor=dict(dtick=43200000, showgrid=True, gridcolor=grid, griddash="dash"),
               showline=True, linecolor="white", linewidth=1, mirror=True, automargin=False,
               ticks="", ticklabelstandoff=5, tickfont=dict(size=10, color="white")),
    yaxis=dict(range=[-30, 15], dtick=5, showgrid=True, gridcolor=grid, griddash="dash",
               zeroline=True, zerolinecolor="white", zerolinewidth=1, automargin=False,
               showline=True, linecolor="white", linewidth=1, mirror=True,
               ticks="", ticklabelstandoff=9, tickfont=dict(size=10, color="white")),
    yaxis2=dict(overlaying="y", side="right", range=[0, 40], dtick=10, showgrid=False, zeroline=False,
                showline=True, linecolor="white", linewidth=1, automargin=False,
                ticks="inside", ticklen=4, tickcolor="white",
                minor=dict(dtick=1, ticks="inside", ticklen=4, tickcolor="white"),
                ticklabelstandoff=6, tickfont=dict(size=11, color="white")),
)

# page body margin would shift the 850x620 figure inside the window
fig.write_html("out.html", config={"displayModeBar": False},
               post_script=["document.body.style.margin='0px';"])
